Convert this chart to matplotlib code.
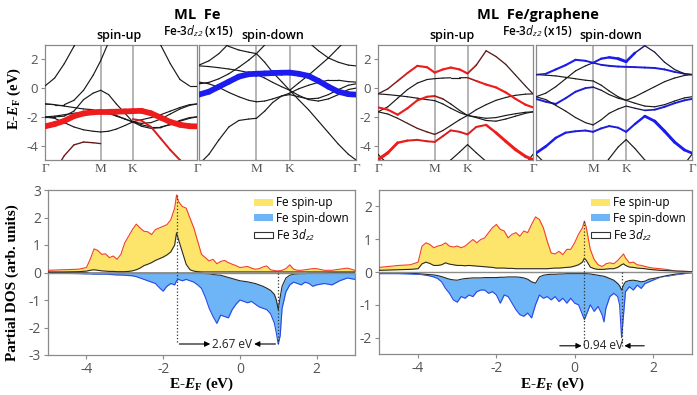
import numpy as np
import matplotlib
matplotlib.use('Agg')
import matplotlib.pyplot as plt
from matplotlib.collections import LineCollection
from matplotlib.colors import to_rgb
from matplotlib.patches import Patch

plt.rcParams['font.family'] = ['Open Sans', 'DejaVu Sans']
plt.rcParams['axes.unicode_minus'] = False
plt.rcParams['mathtext.fontset'] = 'custom'
plt.rcParams['mathtext.rm'] = 'Liberation Serif:bold'
plt.rcParams['mathtext.it'] = 'Liberation Serif:italic:bold'
plt.rcParams['mathtext.bf'] = 'Liberation Serif:bold'
plt.rcParams['mathtext.sf'] = 'Open Sans:italic'

nan = np.nan

# ---------------- band structure data ----------------
# k path G-M-K-G, energies in eV
k_path = [0.0, 0.1, 0.2, 0.3, 0.4, 0.5, 0.577, 0.66, 0.74, 0.83, 0.911,
          1.0, 1.1, 1.2, 1.3, 1.4, 1.5, 1.577]
k_ticks = [0.0, 0.577, 0.911, 1.577]
k_labels = ['Γ', 'M', 'K', 'Γ']

# ML Fe, spin-up
fe_up_bands = [
    [0.15, 0.7, 1.7, 2.9, 4.2, 5.5, nan, nan, nan, nan, nan, nan, nan, nan, nan, nan, nan, nan],
    [nan, nan, nan, nan, nan, nan, nan, nan, nan, nan, nan, nan, 4.4, 3.0, 1.7, 0.6, 0.15, 0.15],
    [-1.1, -1.15, -1.15, -0.85, -0.15, 0.9, 1.9, 3.2, 4.5, nan, nan, nan, nan, nan, nan, nan, nan, nan],
    [-2.0, -2.0, -1.95, -1.6, -0.8, -0.35, -0.15, -0.45, -1.1, -1.75, -2.35, -2.55, -2.7, -2.7, -2.55, -2.3, -2.1, -2.0],
    [-2.0, -2.1, -2.4, -2.7, -2.9, -3.0, -3.05, -3.0, -2.85, -2.6, -2.35, -2.2, -2.05, -1.85, -1.6, -1.35, -1.15, -1.1],
    [-1.1, -1.15, -1.25, -1.35, -1.45, -1.5, -1.5, -1.7, -1.9, -2.15, -2.35, -2.65, -2.8, -2.75, -2.5, -2.25, -2.05, -2.0],
    [-2.0, -1.95, -1.85, -1.75, -1.68, -1.62, -1.6, -1.75, -1.95, -2.15, -2.35, -2.45, -2.4, -2.15, -1.8, -1.45, -1.2, -1.1],
    [-6.5, -5.8, -4.7, -3.95, -3.75, -3.8, -3.86, nan, nan, nan, nan, nan, nan, nan, nan, nan, nan, nan],
    [nan, nan, nan, nan, nan, nan, nan, nan, nan, nan, -2.16, -2.25, -2.7, -3.5, -4.3, -5.0, -5.7, -6.2],
    [-2.66, -2.5, -2.28, -1.95, -1.76, -1.68, -1.65, -1.65, -1.64, -1.62, -1.6, -1.58, -1.75, -2.05, -2.35, -2.55, -2.65, -2.66],
]
fe_up_w = [None, None, None, None, None, None, None,
           [0.12] * 18, [0.3] * 18, [1.0] * 18]

# ML Fe, spin-down
fe_dn_bands = [
    [4.5, 3.9, 3.3, 2.9, 2.65, 2.5, 2.4, 1.8, 1.1, 0.45, -0.15, -0.8, -1.5, -2.3, -3.1, -3.9, -4.6, -5.0],
    [0.3, 0.4, 0.65, 1.0, 1.45, 1.95, 2.4, 3.0, 3.6, 4.3, 5.0, nan, nan, nan, nan, nan, nan, nan],
    [0.42, 0.3, 0.05, -0.3, -0.6, -0.85, -0.95, -0.9, -0.75, -0.55, -0.45, -0.6, -0.75, -0.7, -0.45, -0.1, 0.2, 0.3],
    [1.55, 1.5, 1.42, 1.33, 1.22, 1.08, 0.95, 0.7, 0.4, 0.1, -0.15, -0.5, -0.8, -0.9, -0.75, -0.45, -0.1, 0.0],
    [-5.3, -4.6, -3.6, -2.7, -2.25, -2.15, -2.1, -1.6, -1.0, -0.55, -0.35, -0.05, 0.2, 0.4, 0.55, 0.55, 0.45, 0.42],
    [1.6, 1.9, 2.4, 3.1, 3.9, nan, nan, nan, nan, nan, nan, nan, nan, nan, nan, nan, nan, nan],
    [nan, nan, nan, nan, nan, nan, nan, nan, nan, nan, nan, 4.0, 3.2, 2.6, 2.1, 1.8, 1.6, 1.55],
    [nan, nan, nan, nan, nan, nan, nan, nan, nan, nan, -0.15, 0.35, 0.9, 1.5, 2.1, 2.8, 3.5, 4.0],
    [-0.45, -0.25, 0.1, 0.45, 0.8, 0.97, 1.0, 1.02, 1.05, 1.07, 1.08, 1.0, 0.85, 0.5, 0.1, -0.25, -0.42, -0.45],
]
fe_dn_w = [None] * 8 + [[1.0] * 18]

# ML Fe/graphene, spin-up
gr_up_bands = [
    [-0.4, -0.05, 0.5, 1.05, 1.55, 1.45, 1.08, 1.3, 1.43, 1.3, 1.02, 1.6, 2.6, 2.2, 1.65, 0.9, 0.15, -0.4],
    [-1.65, -1.3, -0.7, -0.1, 0.35, 0.6, 0.66, 0.7, 0.72, 0.72, 0.73, 0.5, 0.25, 0.05, -0.3, -0.75, -1.15, -1.34],
    [-1.34, -1.5, -1.85, -1.4, -0.85, -0.6, -0.55, -0.75, -1.1, -1.55, -1.9, -2.0, -2.1, -2.05, -1.9, -1.78, -1.68, -1.65],
    [-0.4, -0.45, -0.52, -0.6, -0.7, -0.8, -0.87, -1.1, -1.4, -1.7, -1.9, -1.5, -1.15, -0.85, -0.65, -0.5, -0.42, -0.4],
    [-1.65, -1.8, -2.1, -2.45, -2.8, -3.05, -3.22, -2.95, -2.6, -2.2, -1.9, -2.05, -2.25, -2.3, -2.15, -1.95, -1.75, -1.65],
    [-4.98, -4.5, -3.8, -3.65, -3.6, -3.7, -3.74, -3.34, -2.94, -3.04, -3.22, -2.7, -2.56, -3.1, -3.7, -4.28, -4.75, -4.98],
    [nan, nan, nan, nan, nan, nan, nan, -5.6, -5.0, -4.45, -3.93, -4.5, -5.1, -5.8, nan, nan, nan, nan],
    [-4.6, -5.3, nan, nan, nan, nan, nan, nan, nan, nan, nan, nan, nan, nan, nan, nan, nan, nan],
    [nan, nan, nan, nan, nan, nan, nan, nan, nan, nan, nan, nan, nan, nan, nan, nan, -5.3, -4.6],
]
gr_up_w = [
    [0.05, 0.1, 0.2, 0.3, 0.35, 0.35, 0.35, 0.35, 0.35, 0.35, 0.35, 0.15, 0.1, 0.1, 0.08, 0.05, 0.05, 0.05],
    [0, 0, 0, 0, 0, 0, 0, 0, 0, 0, 0.1, 0.3, 0.35, 0.35, 0.35, 0.35, 0.35, 0.35],
    [0.35, 0.35, 0.35, 0.35, 0.35, 0.35, 0.3, 0.1, 0, 0, 0, 0, 0, 0, 0, 0, 0, 0],
    None,
    [0, 0, 0, 0.1, 0.1, 0.1, 0.1, 0.05, 0, 0, 0, 0, 0, 0, 0, 0, 0, 0],
    [0.6, 0.55, 0.45, 0.35, 0.3, 0.3, 0.3, 0.3, 0.3, 0.3, 0.3, 0.3, 0.35, 0.5, 0.55, 0.55, 0.55, 0.55],
    None, None, None,
]

# ML Fe/graphene, spin-down
gr_dn_bands = [
    [0.94, 1.0, 1.3, 1.6, 1.97, 1.9, 1.76, 2.05, 2.14, 2.05, 1.84, 2.45, 2.95, 2.5, 1.8, 1.3, 1.0, 0.94],
    [-0.6, -0.35, 0.1, 0.65, 1.2, 1.55, 1.76, 1.62, 1.55, 1.5, 1.48, 1.46, 1.43, 1.4, 1.3, 1.13, 1.0, 0.94],
    [0.94, 0.9, 0.85, 0.75, 0.65, 0.55, 0.5, 0.2, -0.2, -0.6, -0.85, -0.6, -0.25, 0.1, 0.45, 0.7, 0.88, 0.94],
    [-0.75, -0.95, -1.1, -0.7, -0.25, 0.0, 0.07, -0.15, -0.45, -0.7, -0.85, -1.05, -1.25, -1.3, -1.15, -0.9, -0.68, -0.6],
    [-0.6, -0.8, -1.2, -1.6, -2.05, -2.4, -2.56, -2.2, -1.75, -1.45, -1.25, -1.4, -1.55, -1.5, -1.3, -1.05, -0.85, -0.75],
    [-4.52, -4.05, -3.46, -3.1, -3.0, -2.95, -3.04, -2.8, -2.64, -2.75, -3.04, -2.5, -1.95, -2.3, -3.0, -3.75, -4.3, -4.52],
    [nan, nan, nan, nan, nan, nan, nan, -5.6, -4.9, -4.1, -3.58, -4.2, -5.0, -5.8, nan, nan, nan, nan],
    [-4.6, -5.3, nan, nan, nan, nan, nan, nan, nan, nan, nan, nan, nan, nan, nan, nan, nan, nan],
    [nan, nan, nan, nan, nan, nan, nan, nan, nan, nan, nan, nan, nan, nan, nan, nan, -5.3, -4.6],
]
gr_dn_w = [
    [0.05, 0.3, 0.35, 0.35, 0.35, 0.3, 0.3, 0.35, 0.4, 0.5, 0.6, 0.3, 0.05, 0.05, 0.05, 0.05, 0.05, 0.05],
    [0, 0, 0, 0, 0, 0, 0.1, 0.3, 0.3, 0.3, 0.3, 0.3, 0.3, 0.3, 0.3, 0.3, 0.2, 0.1],
    None,
    [0.3, 0.3, 0.3, 0.3, 0.3, 0.3, 0.2, 0, 0, 0, 0, 0, 0, 0, 0, 0, 0, 0],
    [0, 0, 0, 0, 0, 0, 0, 0, 0, 0, 0, 0.05, 0.15, 0.3, 0.3, 0.3, 0.3, 0.3],
    [0.5, 0.45, 0.4, 0.35, 0.3, 0.3, 0.3, 0.3, 0.3, 0.3, 0.3, 0.35, 0.45, 0.55, 0.55, 0.55, 0.5, 0.45],
    None, None, None,
]

# ---------------- PDOS data ----------------
e_fe = [-5.0, -4.6, -4.2, -4.0, -3.9, -3.8, -3.7, -3.6, -3.5, -3.4, -3.3, -3.2, -3.1, -3.0,
        -2.9, -2.8, -2.7, -2.6, -2.5, -2.4, -2.3, -2.2, -2.1, -2.0, -1.9, -1.8, -1.7, -1.65,
        -1.6, -1.5, -1.4, -1.3, -1.2, -1.1, -1.0, -0.9, -0.8, -0.7, -0.6, -0.5, -0.4, -0.3,
        -0.2, -0.1, 0.0, 0.1, 0.2, 0.3, 0.4, 0.5, 0.6, 0.7, 0.8, 0.9, 0.95, 1.0, 1.05, 1.1,
        1.2, 1.3, 1.4, 1.5, 1.6, 1.7, 1.8, 1.9, 2.0, 2.2, 2.4, 2.6, 2.8, 3.0]
up_fe = [0.08, 0.10, 0.12, 0.18, 0.48, 0.86, 0.80, 0.66, 0.68, 0.54, 0.60, 0.48, 0.66, 1.08,
         1.32, 1.56, 1.76, 1.62, 1.50, 1.48, 1.38, 1.56, 1.62, 1.68, 1.74, 1.92, 2.34, 2.82,
         2.58, 2.40, 2.34, 1.98, 1.62, 1.14, 0.66, 0.54, 0.42, 0.48, 0.32, 0.40, 0.44, 0.36,
         0.30, 0.25, 0.18, 0.20, 0.22, 0.16, 0.12, 0.14, 0.20, 0.24, 0.10, 0.07, 0.06, 0.06,
         0.07, 0.08, 0.14, 0.28, 0.12, 0.08, 0.08, 0.10, 0.12, 0.14, 0.14, 0.08, 0.08, 0.12,
         0.16, 0.08]
dzup_fe = [0.02, 0.02, 0.03, 0.05, 0.08, 0.10, 0.08, 0.06, 0.05, 0.04, 0.04, 0.03, 0.03, 0.03,
           0.04, 0.06, 0.10, 0.16, 0.25, 0.30, 0.36, 0.44, 0.50, 0.56, 0.64, 0.75, 1.00, 1.44,
           1.20, 0.75, 0.30, 0.10, 0.05, 0.03, 0.02, 0.02, 0.02, 0.02, 0.02, 0.02, 0.02, 0.02,
           0.02, 0.02, 0.02, 0.02, 0.02, 0.02, 0.02, 0.02, 0.02, 0.02, 0.02, 0.02, 0.02, 0.02,
           0.02, 0.02, 0.02, 0.02, 0.02, 0.02, 0.02, 0.02, 0.02, 0.02, 0.02, 0.02, 0.02, 0.02,
           0.02, 0.02]
dn_fe = [-0.02, -0.03, -0.04, -0.05, -0.05, -0.06, -0.06, -0.06, -0.06, -0.07, -0.08, -0.09,
         -0.09, -0.10, -0.11, -0.12, -0.15, -0.20, -0.25, -0.30, -0.35, -0.40, -0.55, -0.68,
         -0.50, -0.40, -0.45, -0.30, -0.25, -0.30, -0.25, -0.30, -0.35, -0.45, -0.58, -0.90,
         -1.30, -1.60, -1.85, -1.55, -1.60, -1.65, -1.35, -1.15, -1.00, -1.05, -1.10, -1.05,
         -1.15, -1.25, -1.30, -1.35, -1.50, -1.85, -2.20, -2.60, -2.30, -1.30, -0.70, -0.45,
         -0.35, -0.40, -0.45, -0.35, -0.40, -0.50, -0.45, -0.40, -0.45, -0.30, -0.20, -0.25]
dzdn_fe = [-0.01, -0.01, -0.01, -0.01, -0.02, -0.02, -0.02, -0.02, -0.02, -0.02, -0.02, -0.02,
           -0.02, -0.02, -0.02, -0.02, -0.02, -0.02, -0.02, -0.02, -0.02, -0.02, -0.02, -0.02,
           -0.02, -0.02, -0.02, -0.02, -0.02, -0.02, -0.02, -0.02, -0.02, -0.02, -0.03, -0.04,
           -0.05, -0.07, -0.09, -0.10, -0.14, -0.18, -0.22, -0.26, -0.30, -0.32, -0.34, -0.37,
           -0.40, -0.45, -0.50, -0.57, -0.65, -0.80, -1.00, -1.35, -0.90, -0.50, -0.20, -0.10,
           -0.06, -0.05, -0.04, -0.04, -0.03, -0.03, -0.03, -0.03, -0.02, -0.02, -0.02, -0.02]

e_gr = [-5.0, -4.5, -4.2, -4.0, -3.9, -3.8, -3.7, -3.6, -3.5, -3.4, -3.3, -3.2, -3.1, -3.0,
        -2.9, -2.8, -2.7, -2.6, -2.5, -2.4, -2.3, -2.2, -2.1, -2.0, -1.9, -1.8, -1.7, -1.6,
        -1.5, -1.4, -1.3, -1.2, -1.1, -1.0, -0.9, -0.8, -0.7, -0.6, -0.5, -0.4, -0.3, -0.2,
        -0.1, 0.0, 0.1, 0.2, 0.25, 0.3, 0.4, 0.5, 0.6, 0.7, 0.75, 0.8, 0.9, 1.0, 1.1, 1.15,
        1.2, 1.25, 1.3, 1.4, 1.5, 1.6, 1.7, 1.8, 1.9, 2.0, 2.2, 2.4, 2.6, 2.8, 3.0]
up_gr = [0.14, 0.20, 0.22, 0.30, 0.79, 0.89, 0.84, 0.74, 0.79, 0.82, 0.89, 0.79, 0.76, 0.79,
         0.74, 0.79, 0.89, 0.99, 0.89, 0.99, 1.04, 1.20, 1.35, 1.45, 1.30, 1.25, 1.04, 1.15,
         1.20, 1.09, 1.25, 1.20, 1.45, 1.68, 1.60, 1.35, 0.94, 0.58, 0.55, 0.63, 0.53, 0.69,
         0.69, 0.89, 1.15, 1.35, 1.55, 1.35, 0.69, 0.38, 0.22, 0.17, 0.20, 0.25, 0.28, 0.25,
         0.35, 0.42, 0.48, 0.55, 0.43, 0.28, 0.30, 0.22, 0.20, 0.17, 0.14, 0.12, 0.10, 0.07,
         0.02, 0.02, 0.01]
dzup_gr = [0.05, 0.07, 0.08, 0.10, 0.25, 0.30, 0.26, 0.20, 0.20, 0.22, 0.28, 0.24, 0.22, 0.20,
           0.20, 0.19, 0.20, 0.19, 0.18, 0.17, 0.16, 0.15, 0.14, 0.12, 0.12, 0.12, 0.11, 0.11,
           0.10, 0.10, 0.10, 0.10, 0.10, 0.10, 0.10, 0.10, 0.10, 0.11, 0.12, 0.12, 0.13, 0.14,
           0.15, 0.18, 0.22, 0.30, 0.42, 0.35, 0.15, 0.10, 0.08, 0.08, 0.08, 0.09, 0.10, 0.10,
           0.14, 0.18, 0.22, 0.25, 0.20, 0.15, 0.14, 0.12, 0.11, 0.10, 0.08, 0.07, 0.05, 0.04,
           0.03, 0.02, 0.01]
dn_gr = [-0.05, -0.05, -0.06, -0.07, -0.08, -0.10, -0.12, -0.15, -0.20, -0.30, -0.50, -0.65,
         -0.85, -0.92, -0.75, -0.80, -0.70, -0.75, -0.60, -0.55, -0.55, -0.65, -0.60, -0.70,
         -0.95, -0.70, -0.75, -0.95, -1.15, -1.30, -1.35, -1.25, -1.40, -1.00, -0.70, -0.80,
         -0.75, -0.85, -0.75, -0.90, -0.80, -0.95, -0.80, -0.95, -1.00, -1.30, -1.45, -1.30,
         -1.00, -1.20, -1.05, -1.30, -1.52, -1.10, -0.75, -0.65, -0.75, -1.00, -2.00, -1.30,
         -0.60, -0.45, -0.55, -0.40, -0.50, -0.35, -0.30, -0.25, -0.15, -0.12, -0.08, -0.05,
         -0.02]
dzdn_gr = [-0.02, -0.03, -0.04, -0.05, -0.06, -0.07, -0.08, -0.09, -0.11, -0.14, -0.18, -0.22,
           -0.24, -0.25, -0.22, -0.20, -0.19, -0.18, -0.18, -0.18, -0.17, -0.17, -0.17, -0.17,
           -0.16, -0.16, -0.15, -0.15, -0.15, -0.16, -0.18, -0.22, -0.30, -0.34, -0.15, -0.10,
           -0.08, -0.07, -0.07, -0.06, -0.06, -0.05, -0.05, -0.05, -0.05, -0.05, -0.05, -0.05,
           -0.06, -0.08, -0.10, -0.12, -0.13, -0.15, -0.20, -0.25, -0.35, -0.42, -0.55, -0.40,
           -0.30, -0.26, -0.25, -0.27, -0.30, -0.28, -0.22, -0.20, -0.15, -0.10, -0.06, -0.04,
           -0.02]

# peak positions used for the gap annotations
gap_fe = (-1.65, 1.0, 2.82, -2.6, '2.67 eV')
gap_gr = (0.25, 1.2, 1.55, -2.25, '0.94 eV')

RED = '#ee1c1c'
BLUE = '#1c1cee'
YELLOW = '#fde56c'
LBLUE = '#6db5f6'
GREY = '#8a8a8a'
TICK = '#555555'

W, H = 697, 395
fig = plt.figure(figsize=(W / 100, H / 100), dpi=100)


def px_axes(x0, y0, x1, y1):
    return fig.add_axes([x0 / W, 1 - y1 / H, (x1 - x0) / W, (y1 - y0) / H])


def style_axes(ax):
    for s in ax.spines.values():
        s.set_color(GREY)
        s.set_linewidth(0.9)
    ax.tick_params(colors=GREY, labelcolor=TICK, labelsize=9.5, length=3, width=0.8, pad=2)


def draw_bands(ax, bands, weights, tint, left_panel=True):
    k = np.array(k_path)
    for m in k_ticks[1:3]:
        ax.axvline(m, color='#a0a0a0', lw=1.1, zorder=1)
    black = np.array(to_rgb('#1a1a1a'))
    tc = np.array(to_rgb(tint))
    for e, w in zip(bands, weights):
        e = np.array(e, float)
        w = np.zeros_like(e) if w is None else np.array(w, float)
        pts = np.column_stack([k, e])
        segs = np.stack([pts[:-1], pts[1:]], axis=1)
        ok = np.isfinite(segs).all(axis=(1, 2))
        wm = (w[:-1] + w[1:]) / 2
        mix = np.clip(wm * 3, 0, 1)[:, None]
        cols = (1 - mix) * black + mix * tc
        lws = 0.85 + 3.3 * wm ** 1.5
        lc = LineCollection(segs[ok], colors=cols[ok], linewidths=lws[ok],
                            capstyle='round', zorder=3 + w.max())
        ax.add_collection(lc)
    ax.set_xlim(k_path[0], k_path[-1])
    ax.set_ylim(-5, 3)
    ax.set_xticks(k_ticks)
    labs = list(k_labels) if left_panel else [''] + list(k_labels[1:])
    ax.set_xticklabels(labs, fontfamily='Liberation Serif', fontsize=11.5, color='black')
    style_axes(ax)
    ax.tick_params(axis='x', length=0, pad=2)
    ax.set_yticks([-4, -2, 0, 2])
    if not left_panel:
        ax.tick_params(axis='y', length=0, labelleft=False)


def draw_dos(ax, e, up, dn, dzu, dzd, ylim, yt, gap):
    e = np.array(e)
    ax.fill_between(e, 0, up, color=YELLOW, lw=0, zorder=2)
    ax.plot(e, up, color='#f0402c', lw=0.8, zorder=3)
    ax.fill_between(e, 0, dn, color=LBLUE, lw=0, zorder=2)
    ax.plot(e, dn, color='#2a48e6', lw=0.8, zorder=3)
    ax.fill_between(e, 0, dzu, color='white', lw=0, zorder=4)
    ax.plot(e, dzu, color='#2a2a2a', lw=0.8, zorder=5)
    ax.fill_between(e, 0, dzd, color='white', lw=0, zorder=4)
    ax.plot(e, dzd, color='#2a2a2a', lw=0.8, zorder=5)
    ax.axhline(0, color='#8c8c8c', lw=1.0, zorder=6)
    ax.set_xlim(-5, 3)
    ax.set_ylim(*ylim)
    ax.set_xticks([-4, -2, 0, 2])
    ax.set_yticks(yt)
    style_axes(ax)
    ax.tick_params(labelsize=10)
    x1, x2, ytop, yarr, label = gap
    ax.plot([x1, x1], [ytop, yarr], ls=':', color='#333333', lw=0.9, zorder=7)
    ax.plot([x2, x2], [0, yarr], ls=':', color='#333333', lw=0.9, zorder=7)
    return x1, x2, yarr, label


ax1 = px_axes(45, 45, 197, 160)
ax2 = px_axes(199, 45, 356, 160)
ax3 = px_axes(378, 45, 533, 160)
ax4 = px_axes(536, 45, 692, 160)
draw_bands(ax1, fe_up_bands, fe_up_w, RED)
draw_bands(ax2, fe_dn_bands, fe_dn_w, BLUE, left_panel=False)
draw_bands(ax3, gr_up_bands, gr_up_w, RED)
draw_bands(ax4, gr_dn_bands, gr_dn_w, BLUE, left_panel=False)

ax5 = px_axes(48, 190, 355, 355)
ax6 = px_axes(379, 190, 692, 354)
x1, x2, ya, lab = draw_dos(ax5, e_fe, up_fe, dn_fe, dzup_fe, dzdn_fe, (-3, 3),
                           [-3, -2, -1, 0, 1, 2, 3], gap_fe)
arrow = dict(arrowstyle='-|>', color='black', lw=0.8, mutation_scale=8)
ax5.annotate('', xy=(-0.7, ya), xytext=(x1, ya), arrowprops=arrow, zorder=8)
ax5.annotate('', xy=(0.3, ya), xytext=(x2, ya), arrowprops=arrow, zorder=8)
ax5.text(-0.2, ya, lab, ha='center', va='center', fontsize=8.5, color='#222222', zorder=8)

x1, x2, ya, lab = draw_dos(ax6, e_gr, up_gr, dn_gr, dzup_gr, dzdn_gr, (-2.5, 2.5),
                           [-2, -1, 0, 1, 2], gap_gr)
ax6.annotate('', xy=(x1, ya), xytext=(-0.45, ya), arrowprops=arrow, zorder=8)
ax6.annotate('', xy=(x2, ya), xytext=(1.85, ya), arrowprops=arrow, zorder=8)
ax6.text((x1 + x2) / 2, ya, lab, ha='center', va='center', fontsize=8.5, color='#222222', zorder=8)

handles = [Patch(facecolor=YELLOW, edgecolor='none'),
           Patch(facecolor=LBLUE, edgecolor='none'),
           Patch(facecolor='white', edgecolor='#333333', lw=0.8)]
labels = ['Fe spin-up', 'Fe spin-down', r'Fe 3$\mathsf{d}_{\mathsf{z2}}$']
for ax in (ax5, ax6):
    ax.legend(handles, labels, loc='upper right', frameon=False, fontsize=8.5,
              handlelength=1.6, handleheight=0.5, handletextpad=0.25,
              labelspacing=0.2, borderaxespad=0.25, borderpad=0.3)


def ftext(x, y, s, **kw):
    fig.text(x / W, 1 - y / H, s, ha='center', va='center', **kw)


ftext(197, 15, 'ML  Fe', fontsize=10.5, fontweight='bold')
ftext(538, 15, 'ML  Fe/graphene', fontsize=10.5, fontweight='bold')
for cx in (198, 537):
    ftext(cx, 31, r'Fe-3$\mathsf{d}_{\mathsf{z2}}$ (x15)', fontsize=8.5, fontweight='semibold')
ftext(119, 35, 'spin-up', fontsize=9, fontweight='semibold')
ftext(273, 35, 'spin-down', fontsize=9, fontweight='semibold')
ftext(452, 36, 'spin-up', fontsize=9, fontweight='semibold')
ftext(611, 36, 'spin-down', fontsize=9, fontweight='semibold')

ftext(14, 99, r'E-$\mathit{E}_\mathrm{F}$ (eV)', fontsize=10.5, rotation=90,
      fontfamily='Liberation Serif', fontweight='bold')
ftext(12, 283, 'Partial DOS (arb. units)', fontsize=11, rotation=90,
      fontfamily='Liberation Serif', fontweight='bold')
ftext(202, 384, r'E-$\mathit{E}_\mathrm{F}$ (eV)', fontsize=11,
      fontfamily='Liberation Serif', fontweight='bold')
ftext(553, 384, r'E-$\mathit{E}_\mathrm{F}$ (eV)', fontsize=11,
      fontfamily='Liberation Serif', fontweight='bold')

fig.savefig('out.png', dpi=100)
